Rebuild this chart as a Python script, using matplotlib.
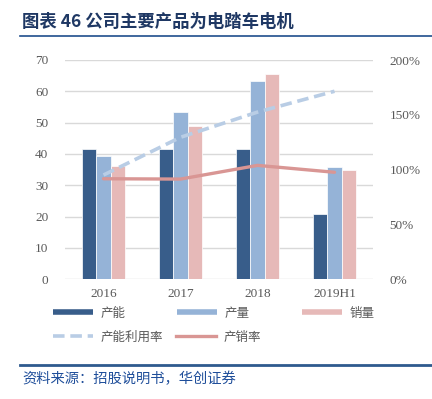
import matplotlib
matplotlib.use("Agg")
import matplotlib.pyplot as plt
from matplotlib.lines import Line2D
import numpy as np

plt.rcParams['font.family'] = ['Liberation Serif', 'Noto Sans CJK SC', 'DejaVu Sans']

categories = ['2016', '2017', '2018', '2019H1']
capacity = [41.5, 41.5, 41.5, 20.7]        # 产能
production = [39.5, 53.5, 63.2, 35.7]      # 产量
sales = [36.2, 48.9, 65.6, 34.8]           # 销量
utilization = [95.1, 129.5, 152.5, 171.5]  # 产能利用率 (%)
sell_rate = [91.7, 91.4, 103.9, 97.6]      # 产销率 (%)
left_ticks = [0, 10, 20, 30, 40, 50, 60, 70]
right_ticks = [0, 50, 100, 150, 200]

c_dark = '#385D8A'
c_light = '#95B3D7'
c_pink = '#E6B9B8'
c_dash = '#B9CDE5'
c_red = '#D99694'
c_tick = '#595959'

fig = plt.figure(figsize=(4.32, 3.99), dpi=100)
ax = fig.add_axes([65/432, 1-279.3/399, 308/432, 219.3/399])
x = np.arange(len(categories))
w = 0.19
ax.bar(x - w, capacity, w, color=c_dark, edgecolor='white', linewidth=0.5, zorder=2)
ax.bar(x, production, w, color=c_light, edgecolor='white', linewidth=0.5, zorder=2)
ax.bar(x + w, sales, w, color=c_pink, edgecolor='white', linewidth=0.5, zorder=2)
ax.set_xlim(-0.5, len(categories) - 0.5)
ax.set_ylim(0, 70)
ax.set_yticks(left_ticks)
ax.set_yticklabels([str(t) for t in left_ticks])
ax.set_xticks(x)
ax.set_xticklabels(categories)
ax.grid(axis='y', color='#D9D9D9', linewidth=1, zorder=0)
ax.set_axisbelow(True)
for s in ax.spines.values():
    s.set_visible(False)
ax.tick_params(axis='both', length=0, colors=c_tick, labelsize=9.5)
ax.tick_params(axis='y', pad=12)
ax.tick_params(axis='x', pad=6)

ax2 = ax.twinx()
ax2.set_ylim(0, 200)
ax2.set_yticks(right_ticks)
ax2.set_yticklabels([f'{t}%' for t in right_ticks])
for s in ax2.spines.values():
    s.set_visible(False)
ax2.tick_params(axis='y', length=0, colors=c_tick, labelsize=9.5, pad=12)
ax2.plot(x, utilization, color=c_dash, linewidth=2.6, dashes=(3.2, 1.6), zorder=3)
ax2.plot(x, sell_rate, color=c_red, linewidth=2.4, solid_capstyle='round', zorder=3)

# legend entries placed individually
cjk = ['Noto Sans CJK SC', 'DejaVu Sans']
entries = [
    (Line2D([], [], color=c_dark, lw=4, solid_capstyle='butt'), '产能', 53, 313),
    (Line2D([], [], color=c_light, lw=4, solid_capstyle='butt'), '产量', 177, 313),
    (Line2D([], [], color=c_pink, lw=4, solid_capstyle='butt'), '销量', 302, 313),
    (Line2D([], [], color=c_dash, lw=2.6, dashes=(3.2, 1.6)), '产能利用率', 53, 337),
    (Line2D([], [], color=c_red, lw=2.4), '产销率', 176, 337),
]
for h, lab, px, py in entries:
    lg = fig.legend(handles=[h], labels=[lab], loc='center left',
                    bbox_to_anchor=(px/432, 1-py/399), frameon=False,
                    borderpad=0, borderaxespad=0, handlelength=3.2,
                    handletextpad=0.6, prop={'family': cjk, 'size': 9})
    for t in lg.get_texts():
        t.set_color(c_tick)

# title and decorations
fig.text(22/432, 1-22/399, '图表 46 公司主要产品为电踏车电机', fontsize=12.5,
         fontweight='bold', color='#1F3864', family=cjk, va='center', ha='left')
fig.add_artist(Line2D([20/432, 1.0], [1-36/399, 1-36/399], color='#1F4E8C', lw=1.2))
fig.add_artist(Line2D([20/432, 1.0], [1-365/399, 1-365/399], color='#2E5A8E', lw=2))
fig.text(22/432, 1-379/399, '资料来源：招股说明书，华创证券', fontsize=10.3,
         color='#1F4E9A', family=cjk, va='center', ha='left', style='italic')

fig.savefig('out.png', dpi=100)
